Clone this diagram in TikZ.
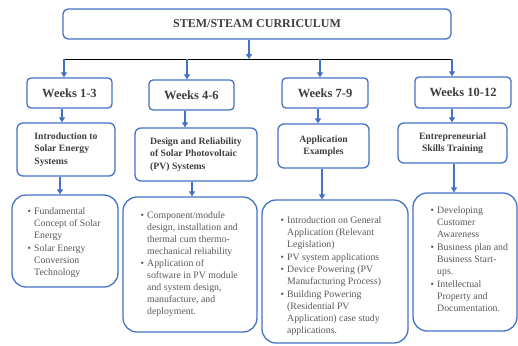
\documentclass[tikz,border=0pt]{standalone}
\usepackage{fontspec}
\setmainfont{Liberation Serif}
\usetikzlibrary{arrows.meta}
\definecolor{bblue}{HTML}{4472C4}
\definecolor{dtext}{HTML}{3F3F3F}
\definecolor{ltext}{HTML}{595959}
\newcommand\mybul{\makebox[6.5pt][l]{\textbullet}}
\newcommand\mycont{\hspace*{6.5pt}}
\begin{document}
\begin{tikzpicture}[x=1pt,y=-1pt,
  box/.style={draw=bblue, line width=1.3pt, rounded corners=#1, inner sep=0pt},
  box/.default=5pt,
  weekbox/.style={box=4pt, text=dtext, font=\fontsize{12.5}{14}\selectfont\bfseries},
  topicbox/.style={box=6pt, text=dtext, font=\fontsize{9.7}{12.3}\selectfont\bfseries},
  listbox/.style={box=14pt},
  listtext/.style={anchor=north west, inner sep=0pt, align=left, text=ltext, font=\fontsize{9.8}{11.9}\selectfont},
  arr/.style={draw=bblue, line width=1.2pt, -{Triangle[width=6pt,length=5pt]}},
]
\useasboundingbox[fill=white] (0,0) rectangle (518,345);

% title
\node[box=5pt, minimum width=388pt, minimum height=30pt, text=dtext,
  font=\fontsize{12}{14}\selectfont\bfseries] (title) at (257,24) {STEM/STEAM CURRICULUM};

% weeks
\node[weekbox, minimum width=85pt, minimum height=30pt] (w1) at (69.5,93) {Weeks 1-3};
\node[weekbox, minimum width=85pt, minimum height=30pt] (w2) at (191.5,95) {Weeks 4-6};
\node[weekbox, minimum width=86pt, minimum height=30pt] (w3) at (325,93) {Weeks 7-9};
\node[weekbox, minimum width=96pt, minimum height=31pt] (w4) at (463,92.5) {Weeks 10-12};

% topics
\node[topicbox, minimum width=98pt, minimum height=53pt, align=left] (t1) at (66,149.5)
  {Introduction to\\Solar Energy\\Systems};
\node[topicbox, minimum width=122pt, minimum height=53pt, align=left] (t2) at (196,154.5)
  {Design and Reliability\\of Solar Photovoltaic\\(PV) Systems};
\node[topicbox, minimum width=91pt, minimum height=44pt, align=center] (t3) at (323.5,146)
  {Application\\Examples};
\node[topicbox, minimum width=109pt, minimum height=40pt, align=center] (t4) at (452.5,143)
  {Entrepreneurial\\Skills Training};

% list boxes
\node[listbox, minimum width=106pt, minimum height=92pt] (l1) at (65,241) {};
\node[listbox, minimum width=134pt, minimum height=135pt] (l2) at (190,264.5) {};
\node[listbox, minimum width=146pt, minimum height=143pt] (l3) at (335,271.5) {};
\node[listbox, minimum width=104pt, minimum height=138pt] (l4) at (465,262) {};

\node[listtext] (x1) at (27.5,205.7) {\strut\mybul Fundamental\\
  \mycont Concept of Solar\\
  \mycont Energy\\[1.8pt]
  \mybul Solar Energy\\
  \mycont Conversion\\
  \mycont Technology};
\node[listtext] (x2) at (140.5,210) {\strut\mybul Component/module\\
  \mycont design, installation and\\
  \mycont thermal cum thermo-\\
  \mycont mechanical reliability\\[0.6pt]
  \mybul Application of\\
  \mycont software in PV module\\
  \mycont and system design,\\
  \mycont manufacture, and\\
  \mycont deployment.};
\node[listtext] (x3) at (280.5,214.7) {\strut\mybul Introduction on General\\
  \mycont Application (Relevant\\
  \mycont Legislation)\\[1.4pt]
  \mybul PV system applications\\[0.4pt]
  \mybul Device Powering (PV\\
  \mycont Manufacturing Process)\\[1.4pt]
  \mybul Building Powering\\
  \mycont (Residential PV\\
  \mycont Application) case study\\
  \mycont applications.};
\node[listtext] (x4) at (430.5,205) {\strut\mybul Developing\\
  \mycont Customer\\
  \mycont Awareness\\[1.4pt]
  \mybul Business plan and\\
  \mycont Business Start-\\
  \mycont ups.\\[1.2pt]
  \mybul Intellectual\\
  \mycont Property and\\
  \mycont Documentation.};

% bus
\coordinate (busL) at (63,59);
\coordinate (busR) at (453,59);
\coordinate (bt) at (249,59);
\coordinate (b1) at (64,59);
\coordinate (b2) at (187,59);
\coordinate (b3) at (320,59);
\coordinate (b4) at (452,59);
\coordinate (c1) at (62,0);
\coordinate (c2) at (185,0);
\coordinate (c3) at (318,0);
\coordinate (c4) at (452,0);
\coordinate (d1) at (60,0);
\coordinate (d2) at (192,0);
\coordinate (d3) at (322,0);
\coordinate (d4) at (454,0);

\draw[black, line width=1pt] (busL) -- (busR);
\draw[arr] (title.south -| bt) -- (bt);
\foreach \i in {1,2,3,4}{
  \draw[arr] (b\i) -- (w\i.north -| b\i);
  \draw[arr] (w\i.south -| c\i) -- (t\i.north -| c\i);
  \draw[arr] (t\i.south -| d\i) -- (l\i.north -| d\i);
}
\end{tikzpicture}
\end{document}
